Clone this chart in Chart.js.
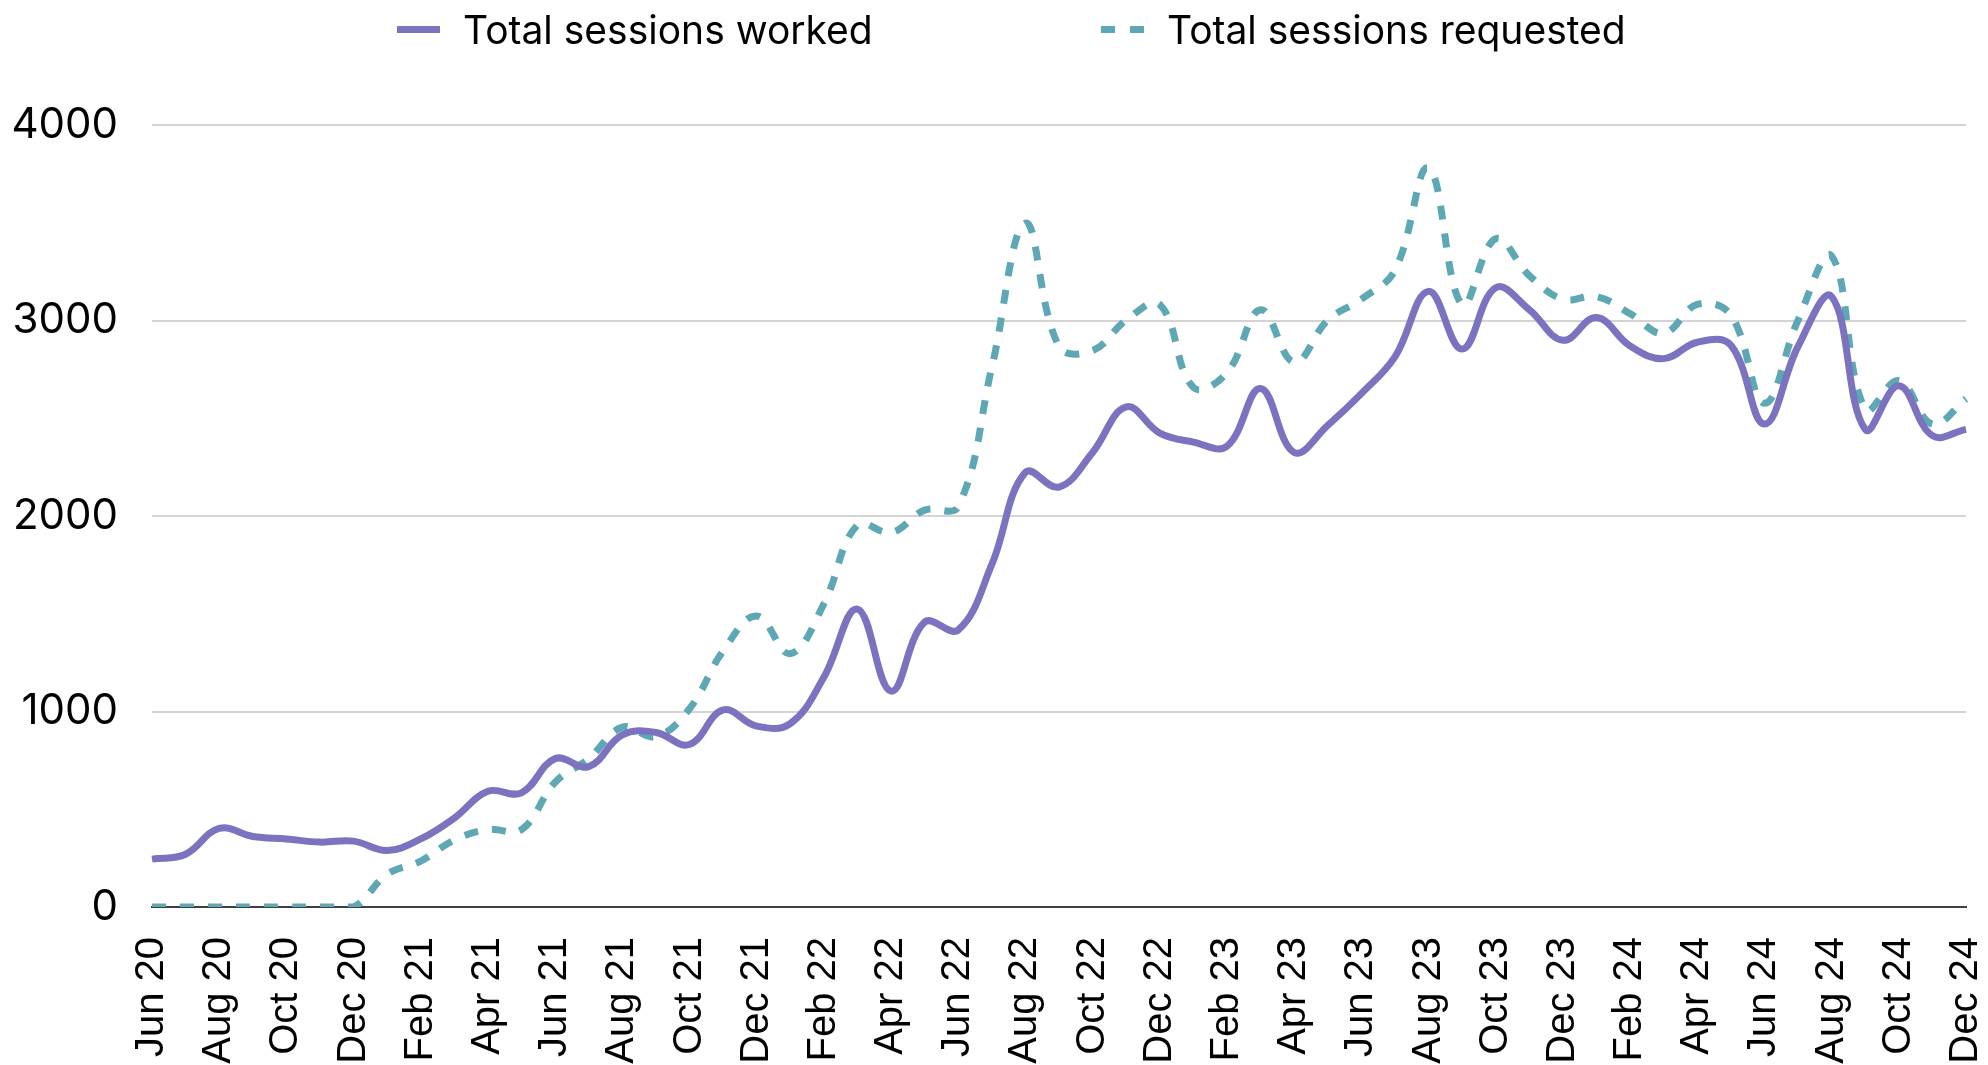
<!DOCTYPE html>
<html lang="en">
<head>
  <meta charset="UTF-8">
  <title>Total sessions worked vs requested</title>
  <script src="https://cdn.jsdelivr.net/npm/chart.js"></script>
  <style>
    body {
      margin: 0;
      background: #fff;
    }

    .wrap {
      position: relative;
      width: 1988px;
      height: 1065px;
    }

    .legend-item {
      position: absolute;
      top: 10px;
      display: flex;
      align-items: center;
      font-family: 'Inter', sans-serif;
      font-size: 39px;
      line-height: 39px;
      color: #000;
      white-space: nowrap;
    }

    .legend-item .swatch {
      width: 43px;
      height: 7px;
      margin-right: 23px;
    }
  </style>
</head>
<body>
  <div class="wrap">
    <div class="legend-item" style="left: 397px;">
      <span class="swatch" style="background: #7b73c0;"></span>Total sessions worked
    </div>
    <div class="legend-item" style="left: 1101px;">
      <span class="swatch" style="background: linear-gradient(to right, #5ea7b4 0 14px, transparent 14px 29px, #5ea7b4 29px 43px);"></span>Total sessions requested
    </div>
    <canvas id="chart" width="1988" height="1065"></canvas>
  </div>

  <script>
    // Monthly labels, Jun 20 to Dec 24
    const months = [
      'Jun 20', 'Jul 20', 'Aug 20', 'Sep 20', 'Oct 20', 'Nov 20', 'Dec 20',
      'Jan 21', 'Feb 21', 'Mar 21', 'Apr 21', 'May 21', 'Jun 21', 'Jul 21', 'Aug 21', 'Sep 21', 'Oct 21', 'Nov 21', 'Dec 21',
      'Jan 22', 'Feb 22', 'Mar 22', 'Apr 22', 'May 22', 'Jun 22', 'Jul 22', 'Aug 22', 'Sep 22', 'Oct 22', 'Nov 22', 'Dec 22',
      'Jan 23', 'Feb 23', 'Mar 23', 'Apr 23', 'May 23', 'Jun 23', 'Jul 23', 'Aug 23', 'Sep 23', 'Oct 23', 'Nov 23', 'Dec 23',
      'Jan 24', 'Feb 24', 'Mar 24', 'Apr 24', 'May 24', 'Jun 24', 'Jul 24', 'Aug 24', 'Sep 24', 'Oct 24', 'Nov 24', 'Dec 24'
    ];

    const sessionsWorked = [
      245, 270, 402, 361, 348, 332, 337, 289, 348, 455, 592, 584,
      759, 718, 880, 893, 831, 1008, 925, 938, 1175, 1524, 1104,
      1457, 1417, 1752, 2223, 2148, 2325, 2558, 2424, 2378, 2357, 2652,
      2325, 2464, 2626, 2814, 3149, 2854, 3168, 3055, 2899, 3015, 2870,
      2805, 2889, 2873, 2470, 2867, 3122, 2443, 2666, 2411, 2443
    ];

    const sessionsRequested = [
      0, 0, 0, 0, 0, 0, 0, 168, 235, 342, 396, 396,
      638, 758, 920, 871, 1014, 1309, 1489, 1296, 1551, 1954, 1915,
      2030, 2048, 2760, 3498, 2867, 2846, 3002, 3082, 2658, 2733, 3055,
      2787, 3002, 3109, 3257, 3781, 3082, 3418, 3230, 3109, 3123, 3035,
      2935, 3082, 3028, 2577, 3002, 3330, 2545, 2692, 2470, 2599
    ];

    const yTicks = [0, 1000, 2000, 3000, 4000];

    const ctx = document.getElementById('chart').getContext('2d');
    new Chart(ctx, {
      type: 'line',
      data: {
        labels: months,
        datasets: [
          {
            label: 'Total sessions worked',
            data: sessionsWorked,
            borderColor: '#7b73c0',
            backgroundColor: '#7b73c0',
            borderWidth: 7,
            pointRadius: 0,
            tension: 0.4
          },
          {
            label: 'Total sessions requested',
            data: sessionsRequested,
            borderColor: '#5ea7b4',
            backgroundColor: '#5ea7b4',
            borderWidth: 7,
            borderDash: [14, 14],
            borderCapStyle: 'butt',
            pointRadius: 0,
            tension: 0.4
          }
        ]
      },
      options: {
        responsive: false,
        animation: false,
        layout: {
          padding: { top: 125, right: 22, bottom: 0, left: 0 }
        },
        plugins: {
          legend: { display: false },
          tooltip: { enabled: false }
        },
        scales: {
          x: {
            offset: false,
            grid: { display: false, drawTicks: false },
            border: { display: true, color: '#404040', width: 2 },
            ticks: {
              autoSkip: false,
              maxRotation: 90,
              minRotation: 90,
              padding: 30,
              color: '#000',
              font: { family: "'Liberation Sans', Arial, sans-serif", size: 40 },
              callback: function (val, i) {
                return i % 2 === 0 ? this.getLabelForValue(val) : '';
              }
            },
            afterFit: function (scale) {
              scale.height = 158;
              // let the last point sit on the right edge like the original
              scale.paddingLeft = 0;
              scale.paddingRight = 0;
            }
          },
          y: {
            min: yTicks[0],
            max: yTicks[yTicks.length - 1],
            afterBuildTicks: function (scale) {
              scale.ticks = yTicks.map(v => ({ value: v }));
            },
            grid: {
              drawTicks: false,
              lineWidth: 2,
              color: c => c.tick && c.tick.value === 0 ? '#404040' : '#d4d4d4'
            },
            border: { display: false },
            ticks: {
              padding: 34,
              color: '#000',
              font: { family: "'Inter', sans-serif", size: 42 },
              callback: v => String(v)
            },
            afterFit: function (scale) { scale.width = 152; }
          }
        }
      }
    });
  </script>
</body>
</html>
